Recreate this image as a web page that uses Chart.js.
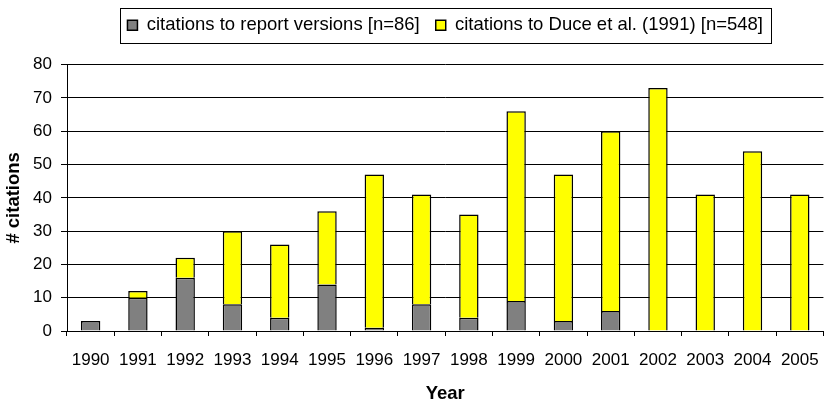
<!DOCTYPE html>
<html>
<head>
<meta charset="utf-8">
<script src="https://cdn.jsdelivr.net/npm/chart.js@4/dist/chart.umd.min.js"></script>
<style>
  html, body { margin: 0; padding: 0; background: #fff; }
  #cont { width: 833px; height: 406px; }
</style>
</head>
<body>
<div id="cont"><canvas id="graphicChart"></canvas></div>
<script>
const years = ["1990", "1991", "1992", "1993", "1994", "1995", "1996", "1997",
  "1998", "1999", "2000", "2001", "2002", "2003", "2004", "2005"];
const reportCites = [3, 10, 16, 8, 4, 14, 1, 8, 4, 9, 3, 6, 0, 0, 0, 0];
const duceCites = [0, 2, 6, 22, 22, 22, 46, 33, 31, 57, 44, 54, 73, 41, 54, 41];
const yTicks = [0, 10, 20, 30, 40, 50, 60, 70, 80];

const fuente = "Liberation Sans, Arial, sans-serif";

// caja alrededor de la leyenda
const legendBox = {
  id: "legendBox",
  afterDraw: (chart) => {
    const lg = chart.legend;
    if (!lg || !lg.legendHitBoxes.length) return;
    const first = lg.legendHitBoxes[0];
    const last = lg.legendHitBoxes[lg.legendHitBoxes.length - 1];
    const cy = first.top + first.height / 2;
    const ctx = chart.ctx;
    ctx.save();
    ctx.strokeStyle = "#000";
    ctx.lineWidth = 1;
    const x0 = Math.round(first.left - 7) + 0.5;
    const x1 = Math.round(last.left + last.width + 8) + 0.5;
    ctx.strokeRect(x0, Math.round(cy - 17.5) + 0.5, x1 - x0, 35);
    ctx.restore();
  },
};

// los ceros no se dibujan
const sinCeros = (arr) => arr.map((v) => (v === 0 ? null : v));

const ctx = document.querySelector("#graphicChart");
new Chart(ctx, {
  type: "bar",
  data: {
    labels: [...years],
    datasets: [
      {
        label: "citations to report versions [n=86]",
        data: sinCeros(reportCites),
        backgroundColor: "#808080",
        borderColor: "#000",
        borderWidth: 1.5,
        stack: "s1",
      },
      {
        label: "citations to Duce et al. (1991) [n=548]",
        data: sinCeros(duceCites),
        backgroundColor: "#ffff00",
        borderColor: "#000",
        borderWidth: 1.5,
        stack: "s1",
      },
    ],
  },
  options: {
    responsive: true,
    maintainAspectRatio: false,
    animation: false,
    layout: { padding: { top: 0, right: 0, left: 0, bottom: 0 } },
    datasets: { bar: { barPercentage: 0.41, categoryPercentage: 1 } },
    scales: {
      x: {
        stacked: true,
        grid: { offset: true, drawOnChartArea: false, drawTicks: true, tickLength: 5, tickColor: "#000" },
        border: { color: "#000" },
        ticks: { color: "#000", font: { family: fuente, size: 17 }, padding: 14, maxRotation: 0, autoSkip: false },
        title: { display: true, text: "Year", color: "#000", font: { family: fuente, size: 18.5, weight: "bold" }, padding: { top: 4, bottom: 1 } },
        afterFit: (scale) => { scale.height = 75; },
      },
      y: {
        stacked: true,
        min: 0,
        max: 80,
        afterBuildTicks: (scale) => { scale.ticks = yTicks.map((v) => ({ value: v })); },
        grid: { color: "#000", tickLength: 6, tickColor: "#000" },
        border: { color: "#000" },
        ticks: { color: "#000", font: { family: fuente, size: 17 }, padding: 9 },
        title: { display: true, text: "# citations", color: "#000", font: { family: fuente, size: 18.5, weight: "bold" }, padding: { top: 3, bottom: 0 } },
        afterFit: (scale) => { scale.width = 67; },
      },
    },
    plugins: {
      legend: {
        position: "top",
        fullSize: false,
        weight: 2000,
        labels: {
          color: "#000",
          boxWidth: 10,
          boxHeight: 10,
          padding: 16,
          font: { family: fuente, size: 18.5 },
        },
      },
      // espacio vacío entre leyenda y gráfica
      subtitle: {
        display: true,
        text: " ",
        weight: 500,
        font: { size: 1 },
        padding: { top: 10, bottom: 9 },
      },
      tooltip: { enabled: false },
    },
  },
  plugins: [legendBox],
});
</script>
</body>
</html>
